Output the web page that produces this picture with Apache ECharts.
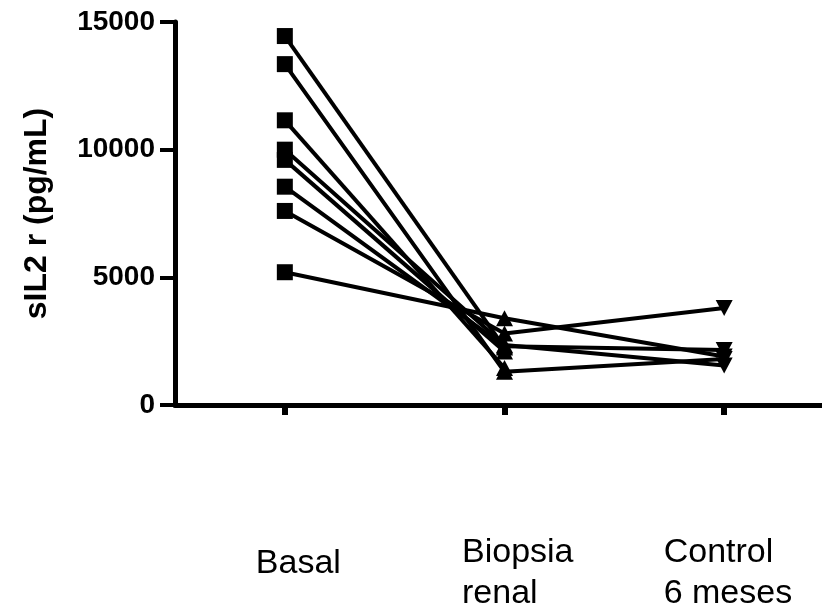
<!DOCTYPE html>
<html>
<head>
<meta charset="utf-8">
<script src="https://cdn.jsdelivr.net/npm/echarts@6/dist/echarts.min.js"></script>
<style>
    html, body { margin: 0; padding: 0; background: #fff; overflow: hidden; }
    #chart { width: 822px; height: 606px; }
</style>
</head>
<body>
<div id="chart"></div>
<script>
var categories = ['Basal', 'Biopsia\nrenal', 'Control\n6 meses'];
var yTicks = [0, 5000, 10000, 15000];

// one array per patient: basal, biopsia renal, control 6 meses ('-' = no value)
var patient1 = [14450, 2250, '-'];
var patient2 = [13350, 1300, 1800];
var patient3 = [11150, 1450, '-'];
var patient4 = [10000, 2350, 1550];
var patient5 = [9600, 2100, '-'];
var patient6 = [8550, 2300, 2150];
var patient7 = [7600, 2800, 3800];
var patient8 = [5200, 3400, 1900];

var patients = [patient1, patient2, patient3, patient4, patient5, patient6, patient7, patient8];

var font = 'Liberation Sans, Arial, sans-serif';
var downTriangle = 'path://M0,0 L10,0 L5,10 Z';
var labelKeys = ['a', 'b', 'c'];

var chart = echarts.init(document.getElementById('chart'));

var series = patients.map(function (p, i) {
    return {
        type: 'line',
        name: 'P' + (i + 1),
        data: p,
        symbol: function (v, params) {
            if (params.dataIndex === 0) return 'rect';
            if (params.dataIndex === 1) return 'triangle';
            return downTriangle;
        },
        symbolSize: function (v, params) {
            return params.dataIndex === 0 ? 16 : [17, 16];
        },
        showAllSymbol: true,
        connectNulls: false,
        lineStyle: { color: '#000', width: 4 },
        itemStyle: { color: '#000', borderWidth: 0 },
        emphasis: { disabled: true },
        animation: false
    };
});

chart.setOption({
    backgroundColor: '#fff',
    animation: false,
    grid: { left: 175, right: -12, top: 22, bottom: 201, containLabel: false, outerBoundsMode: 'none' },
    xAxis: {
        type: 'category',
        data: categories,
        boundaryGap: true,
        axisLine: { lineStyle: { color: '#000', width: 5 } },
        axisTick: { show: true, alignWithLabel: true, length: 10, lineStyle: { color: '#000', width: 6 } },
        axisLabel: {
            interval: 0,
            margin: 168,
            verticalAlign: 'middle',
            formatter: function (value, idx) {
                var key = labelKeys[idx];
                return value.split('\n').map(function (line) {
                    return '{' + key + '|' + line + '}';
                }).join('\n');
            },
            rich: {
                a: { fontFamily: font, fontSize: 34, color: '#000', lineHeight: 41, padding: [0, 0, 18, 27] },
                b: { fontFamily: font, fontSize: 34, color: '#000', lineHeight: 41, width: 112, align: 'left', padding: [0, 0, 0, 27] },
                c: { fontFamily: font, fontSize: 34, color: '#000', lineHeight: 41, width: 129, align: 'left', padding: [0, 0, 0, 8] }
            }
        }
    },
    yAxis: {
        type: 'value',
        min: yTicks[0],
        max: yTicks[yTicks.length - 1],
        interval: yTicks[1] - yTicks[0],
        name: 'sIL2 r (pg/mL)',
        nameLocation: 'middle',
        nameGap: 122,
        nameTextStyle: { fontFamily: font, fontSize: 32, fontWeight: 'bold', color: '#000' },
        splitLine: { show: false },
        axisLine: { show: true, lineStyle: { color: '#000', width: 5 } },
        axisTick: { show: true, length: 15, lineStyle: { color: '#000', width: 4 } },
        axisLabel: {
            margin: 20,
            fontFamily: font,
            fontSize: 28,
            fontWeight: 'bold',
            color: '#000',
            formatter: function (v) { return String(v); }
        }
    },
    series: series
});
</script>
</body>
</html>
